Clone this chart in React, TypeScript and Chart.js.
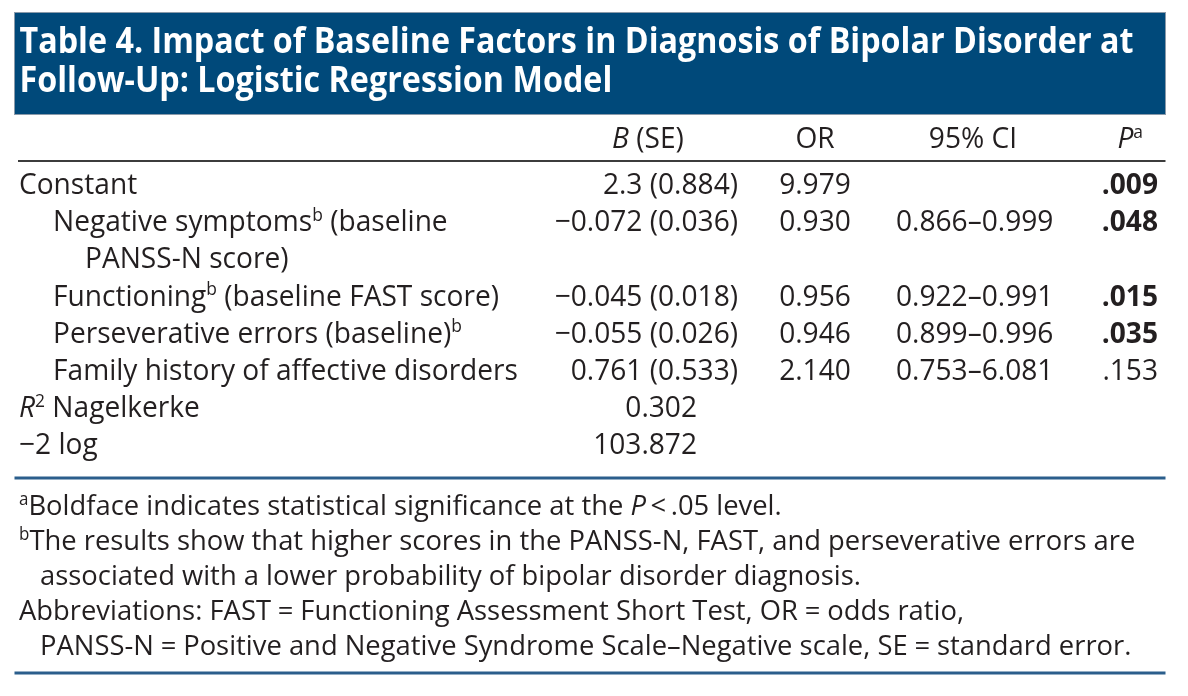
import React, { useEffect, useRef } from "react";
import { Chart, registerables } from "chart.js";

Chart.register(...registerables);

const W = 1188;
const H = 696;

// ---------------- data ----------------
const titleLines = [
  "Table 4. Impact of Baseline Factors in Diagnosis of Bipolar Disorder at",
  "Follow-Up: Logistic Regression Model",
];
const columnHeaders = ["{i:B} (SE)", "OR", "95% CI", "{i:P}{s:a}"];
const predictors = [
  "Constant",
  "Negative symptoms{s:b} (baseline\nPANSS-N score)",
  "Functioning{s:b} (baseline FAST score)",
  "Perseverative errors (baseline){s:b}",
  "Family history of affective disorders",
];
const predictorLevels = [0, 1, 1, 1, 1];
const coefficients = [
  "2.3 (0.884)",
  "\u22120.072 (0.036)",
  "\u22120.045 (0.018)",
  "\u22120.055 (0.026)",
  "0.761 (0.533)",
];
const oddsRatios = ["9.979", "0.930", "0.956", "0.946", "2.140"];
const confidenceIntervals = [
  "",
  "0.866\u20130.999",
  "0.922\u20130.991",
  "0.899\u20130.996",
  "0.753\u20136.081",
];
const pValues = [".009", ".048", ".015", ".035", ".153"];
const significant = [true, true, true, true, false];
const fitLabels = ["{i:R}{s:2} Nagelkerke", "\u22122 log"];
const fitValues = ["0.302", "103.872"];
const footnotes = [
  "{s:a}Boldface indicates statistical significance at the {i:P}\u2009<\u2009.05 level.",
  "{s:b}The results show that higher scores in the PANSS-N, FAST, and perseverative errors are\nassociated with a lower probability of bipolar disorder diagnosis.",
  "Abbreviations: FAST\u2005=\u2005Functioning Assessment Short Test, OR\u2005=\u2005odds ratio,\nPANSS-N\u2005=\u2005Positive and Negative Syndrome Scale\u2013Negative scale, SE\u2005=\u2005standard error.",
];

// ---------------- layout / style ----------------
const FONT = '"Open Sans", "Noto Sans", sans-serif';
const INK = "#231f20";
const NAVY = "#00497a";
const RULE_BLUE = "#2b5e8c";
const RULE_DARK = "#3c3c3c";

const L = {
  bar: { x0: 14.5, y0: 12.5, x1: 1165.5, y1: 114.5 },
  title: { x: 19.5, y0: 53, dy: 39, size: 35.5, fitWidth: 1114 },
  body: { size: 29, fitWidth: 465, row0: 194, rowH: 37.2 },
  headerY: 148,
  headRule: { y: 161, x0: 18, x1: 1165.5 },
  bodyRule: { y: 478, x0: 14.5, x1: 1165.5 },
  endRule: { y: 673 },
  indent: [19, 53, 85],
  cols: [
    { x: 738, align: "right", hx: 648, halign: "center" },
    { x: 815, align: "center", hx: 815, halign: "center" },
    { x: 896, align: "left", hx: 973, halign: "center" },
    { x: 1158, align: "right", hx: 1143, halign: "right" },
  ],
  fitValueX: 697,
  foot: { size: 28, x: 19, indent: 40, y0: 515, dy: 35, fitWidth: 1106 },
};

// ---------------- rich text helpers ----------------
type Seg = { t: string; i?: boolean; b?: boolean; s?: boolean };

function parse(str: string): Seg[] {
  const out: Seg[] = [];
  const re = /\{(i|s|b):([^}]*)\}/g;
  let last = 0;
  let m: RegExpExecArray | null;
  while ((m = re.exec(str))) {
    if (m.index > last) out.push({ t: str.slice(last, m.index) });
    const seg: Seg = { t: m[2] };
    if (m[1] === "i") seg.i = true;
    if (m[1] === "s") seg.s = true;
    if (m[1] === "b") seg.b = true;
    out.push(seg);
    last = re.lastIndex;
  }
  if (last < str.length) out.push({ t: str.slice(last) });
  return out;
}

function segFont(seg: Seg, size: number, bold: boolean) {
  const sz = seg.s ? size * 0.62 : size;
  return `${seg.i ? "italic " : ""}${bold || seg.b ? "bold " : ""}${sz}px ${FONT}`;
}

function richWidth(ctx: CanvasRenderingContext2D, segs: Seg[], size: number, bold: boolean, sx: number) {
  let w = 0;
  for (const s of segs) {
    ctx.font = segFont(s, size, bold);
    w += ctx.measureText(s.t).width * sx;
  }
  return w;
}

function drawRich(
  ctx: CanvasRenderingContext2D,
  text: string,
  x: number,
  y: number,
  align: string,
  size: number,
  bold: boolean,
  sx: number,
  color: string
) {
  const segs = parse(text);
  const w = richWidth(ctx, segs, size, bold, sx);
  let cx = align === "left" ? x : align === "right" ? x - w : x - w / 2;
  ctx.fillStyle = color;
  ctx.textBaseline = "alphabetic";
  ctx.textAlign = "left";
  for (const s of segs) {
    ctx.font = segFont(s, size, bold);
    const sw = ctx.measureText(s.t).width;
    ctx.save();
    ctx.translate(cx, s.s ? y - size * 0.36 : y);
    ctx.scale(sx, 1);
    ctx.fillText(s.t, 0, 0);
    ctx.restore();
    cx += sw * sx;
  }
}

function fitScale(ctx: CanvasRenderingContext2D, text: string, size: number, bold: boolean, width: number) {
  const w = richWidth(ctx, parse(text), size, bold, 1);
  return w > 0 ? width / w : 1;
}

function rule(ctx: CanvasRenderingContext2D, x0: number, x1: number, y: number, color: string, lw: number) {
  ctx.save();
  ctx.strokeStyle = color;
  ctx.lineWidth = lw;
  ctx.beginPath();
  ctx.moveTo(x0, y);
  ctx.lineTo(x1, y);
  ctx.stroke();
  ctx.restore();
}

// ---------------- plugin that renders the table ----------------
const tablePlugin = {
  id: "tableRenderer",
  afterDraw(chart: any) {
    const ctx: CanvasRenderingContext2D = chart.ctx;
    const ys = chart.scales.y;
    ctx.save();

    // title bar
    ctx.fillStyle = NAVY;
    ctx.fillRect(L.bar.x0, L.bar.y0, L.bar.x1 - L.bar.x0, L.bar.y1 - L.bar.y0);
    ctx.strokeStyle = "#8a9aaa";
    ctx.lineWidth = 1;
    ctx.strokeRect(L.bar.x0, L.bar.y0, L.bar.x1 - L.bar.x0, L.bar.y1 - L.bar.y0);
    const tsx = fitScale(ctx, titleLines[0], L.title.size, true, L.title.fitWidth);
    titleLines.forEach((t, k) =>
      drawRich(ctx, t, L.title.x, L.title.y0 + k * L.title.dy, "left", L.title.size, true, tsx, "#ffffff")
    );

    // rules
    rule(ctx, L.headRule.x0, L.headRule.x1, L.headRule.y, RULE_DARK, 2);
    rule(ctx, L.bodyRule.x0, L.bodyRule.x1, ys.getPixelForValue((L.bodyRule.y - L.body.row0) / L.body.rowH), RULE_BLUE, 3);
    rule(ctx, L.bodyRule.x0, L.bodyRule.x1, L.endRule.y, RULE_BLUE, 3);

    // cells from dataset elements (positions come from the chart scales)
    const bsx = fitScale(ctx, predictors[4], L.body.size, false, L.body.fitWidth);
    chart.data.datasets.forEach((ds: any, di: number) => {
      const meta = chart.getDatasetMeta(di);
      meta.data.forEach((el: any, j: number) => {
        drawRich(ctx, ds.texts[j], el.x, el.y, ds.align, L.body.size, !!(ds.bolds && ds.bolds[j]), bsx, INK);
      });
    });

    // footnotes
    const fsx = fitScale(ctx, footnotes[1].split("\n")[0].replace("{s:b}", ""), L.foot.size, false, L.foot.fitWidth);
    let line = 0;
    footnotes.forEach((f) => {
      f.split("\n").forEach((part, k) => {
        drawRich(ctx, part, k === 0 ? L.foot.x : L.foot.indent, L.foot.y0 + line * L.foot.dy, "left", L.foot.size, false, fsx, INK);
        line++;
      });
    });
    ctx.restore();
  },
};

function buildDatasets() {
  const rowOf: number[] = [];
  const labelPts: any[] = [];
  const labelTexts: string[] = [];
  let line = 0;
  predictors.forEach((p, j) => {
    rowOf.push(line);
    p.split("\n").forEach((part, k) => {
      labelPts.push({ x: L.indent[predictorLevels[j] + (k > 0 ? 1 : 0)], y: line });
      labelTexts.push(part);
      line++;
    });
  });
  const fitRows: number[] = [];
  fitLabels.forEach((f) => {
    fitRows.push(line);
    labelPts.push({ x: L.indent[0], y: line });
    labelTexts.push(f);
    line++;
  });

  const base = { showLine: false, pointRadius: 0, pointHoverRadius: 0 };
  const datasets: any[] = [
    { ...base, label: "labels", data: labelPts, texts: labelTexts, align: "left" },
  ];
  const headerRow = (L.headerY - L.body.row0) / L.body.rowH;
  L.cols.forEach((c, ci) =>
    datasets.push({
      ...base,
      label: "header-" + ci,
      data: [{ x: c.hx, y: headerRow }],
      texts: [columnHeaders[ci]],
      align: c.halign,
    })
  );
  const columns = [coefficients, oddsRatios, confidenceIntervals, pValues];
  columns.forEach((vals, ci) => {
    const pts: any[] = [];
    const texts: string[] = [];
    const bolds: boolean[] = [];
    vals.forEach((v, j) => {
      if (!v) return;
      pts.push({ x: L.cols[ci].x, y: rowOf[j] });
      texts.push(v);
      bolds.push(ci === 3 && significant[j]);
    });
    datasets.push({ ...base, label: "col-" + ci, data: pts, texts, bolds, align: L.cols[ci].align });
  });
  datasets.push({
    ...base,
    label: "fit",
    data: fitValues.map((_, k) => ({ x: L.fitValueX, y: fitRows[k] })),
    texts: fitValues,
    align: "right",
  });
  return datasets;
}

export default function App() {
  const ref = useRef<HTMLCanvasElement | null>(null);
  useEffect(() => {
    if (!ref.current) return;
    const chart = new Chart(ref.current, {
      type: "scatter",
      data: { datasets: buildDatasets() },
      options: {
        responsive: false,
        animation: false,
        devicePixelRatio: 1,
        events: [],
        layout: { padding: 0 },
        plugins: { legend: { display: false }, tooltip: { enabled: false }, title: { display: false } },
        scales: {
          x: { type: "linear", min: 0, max: W, display: false },
          y: {
            type: "linear",
            reverse: true,
            min: -L.body.row0 / L.body.rowH,
            max: (H - L.body.row0) / L.body.rowH,
            display: false,
          },
        },
      },
      plugins: [tablePlugin],
    } as any);
    return () => chart.destroy();
  }, []);
  return (
    <canvas
      ref={ref}
      width={W}
      height={H}
      style={{ position: "fixed", left: 0, top: 0, width: W, height: H, background: "#ffffff" }}
    />
  );
}
